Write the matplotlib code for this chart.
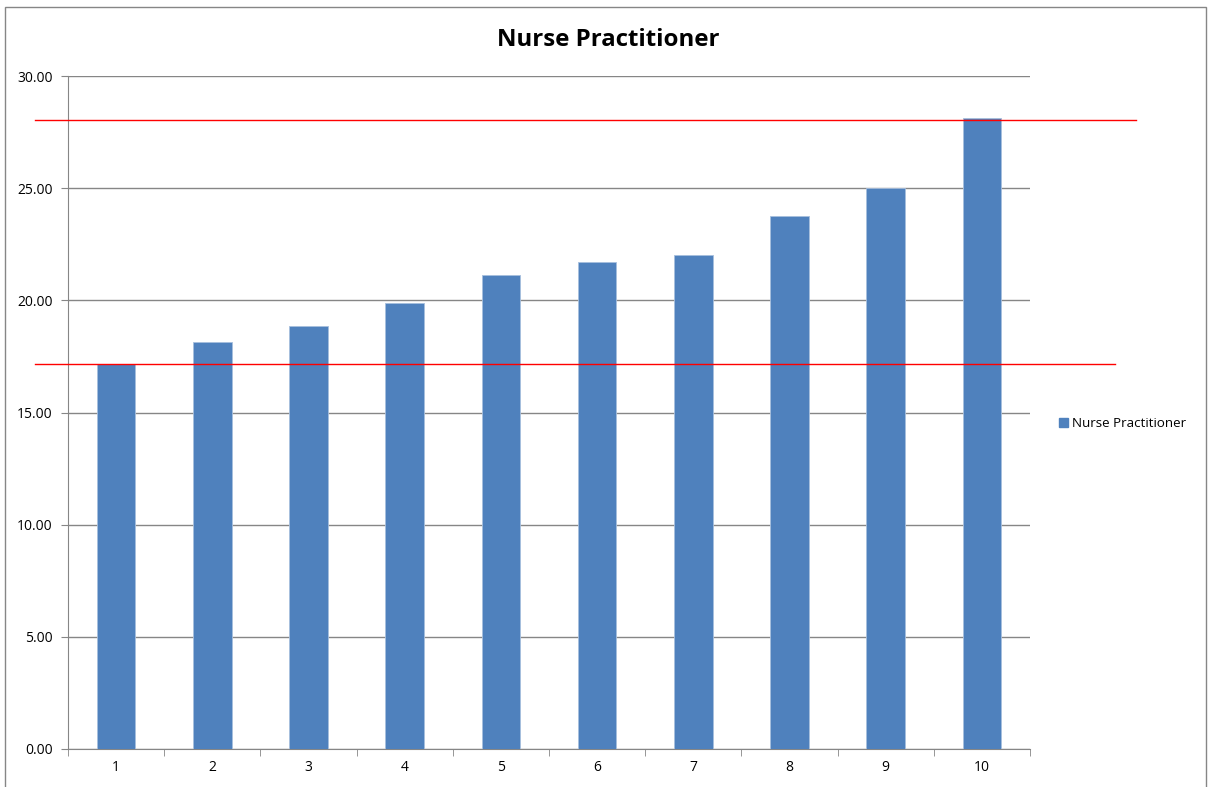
import matplotlib.pyplot as plt
from matplotlib.patches import Rectangle, Patch
import numpy as np

categories = ['1', '2', '3', '4', '5', '6', '7', '8', '9', '10']
values = [17.17, 18.15, 18.86, 19.88, 21.12, 21.70, 22.01, 23.76, 25.01, 28.13]
series_name = 'Nurse Practitioner'
low_line = 17.14
high_line = 28.03

plt.rcParams['font.family'] = ['Open Sans', 'DejaVu Sans']

fig = plt.figure(figsize=(12.08, 7.87), dpi=100)
ax = fig.add_axes([68 / 1208, 38 / 787, 962 / 1208, 673 / 787])

x = np.arange(1, len(values) + 1)
ax.bar(x, values, width=0.4, color='#4F81BD', edgecolor='#A7BFDE', linewidth=0.6, zorder=3)

ax.set_xlim(0.5, 10.5)
ax.set_ylim(0, 30)
ax.set_yticks(np.arange(0, 30.01, 5))
ax.set_yticklabels([f'{v:.2f}' for v in np.arange(0, 30.01, 5)], fontsize=10)
ax.set_xticks(x)
ax.set_xticklabels(categories, fontsize=10)
ax.set_xticks(np.arange(0.5, 10.6, 1), minor=True)
ax.tick_params(axis='x', which='major', length=0, pad=8)
ax.tick_params(axis='x', which='minor', length=5, color='#868686')
ax.tick_params(axis='y', length=5, color='#868686', pad=6)
ax.yaxis.grid(True, color='#868686', linewidth=1, zorder=0)
for s in ['top', 'right']:
    ax.spines[s].set_visible(False)
for s in ['left', 'bottom']:
    ax.spines[s].set_color('#868686')

# red reference lines extend beyond the plot area
ax.axhline(low_line, xmin=-0.034, xmax=1.088, color='red', linewidth=1, clip_on=False, zorder=4)
ax.axhline(high_line, xmin=-0.034, xmax=1.110, color='red', linewidth=1, clip_on=False, zorder=4)

fig.text(608 / 1208, 1 - 40 / 787, series_name, ha='center', va='center',
         fontsize=17.3, fontweight='bold')

fig.legend(handles=[Patch(color='#4F81BD', label=series_name)], loc='center left',
           bbox_to_anchor=(1047 / 1208, 1 - 424 / 787), frameon=False, fontsize=9.6,
           handlelength=0.7, handleheight=0.7, handletextpad=0.3)

fig.patches.append(Rectangle((5 / 1208, -0.01), 1201 / 1208, 1.01 - 7 / 787, transform=fig.transFigure,
                             fill=False, edgecolor='#868686', linewidth=1))

fig.savefig('out.png', dpi=100)
